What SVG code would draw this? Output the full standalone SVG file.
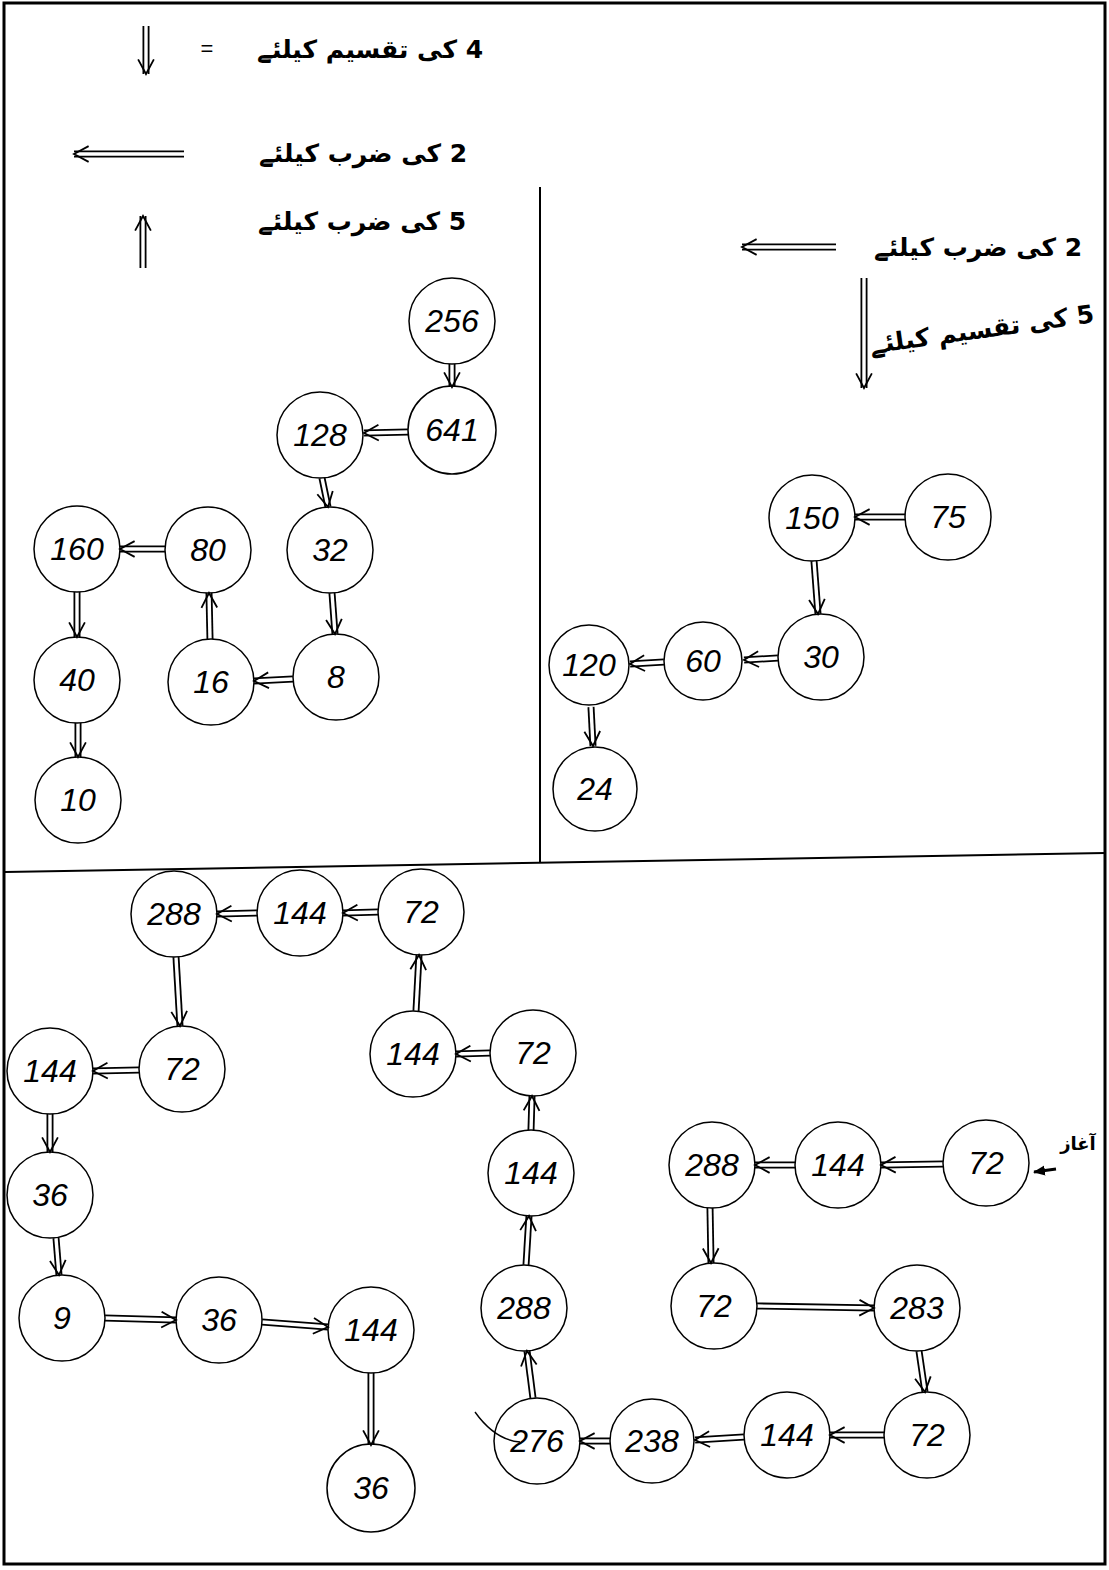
<svg xmlns="http://www.w3.org/2000/svg" width="1109" height="1570" viewBox="0 0 1109 1570">
<style>
.node circle{fill:none;stroke:#000;stroke-width:1.5}
.node text{font-family:"Liberation Sans","DejaVu Sans",sans-serif;font-style:italic;font-size:32px;text-anchor:middle;dominant-baseline:central;fill:#000}
.o{stroke:#000;stroke-width:7;fill:none}
.i{stroke:#fff;stroke-width:3.4;fill:none;marker-end:url(#ah)}
.ur{font-family:"DejaVu Sans","Noto Sans",sans-serif;font-weight:bold;font-size:25px;fill:#000;text-anchor:middle;direction:rtl}
.frame{fill:none;stroke:#000;stroke-width:3}
.div{stroke:#000;stroke-width:2;fill:none}
</style>
<defs>
<marker id="ah" markerUnits="userSpaceOnUse" markerWidth="18" markerHeight="18" viewBox="0 0 16 16" refX="14" refY="8" orient="auto">
<path d="M1 1 L14 8 L1 15" fill="none" stroke="#000" stroke-width="1.6"/>
</marker>
<marker id="sa" markerUnits="userSpaceOnUse" markerWidth="12" markerHeight="12" viewBox="0 0 12 12" refX="11" refY="6" orient="auto">
<path d="M0 1 L12 6 L0 11 Z" fill="#000"/>
</marker>
</defs>
<rect width="1109" height="1570" fill="#fff"/>
<rect class="frame" x="4" y="3" width="1101" height="1561"/>
<g id="dividers">
<line class="div" x1="540" y1="187" x2="540" y2="862"/>
<line class="div" x1="5" y1="872" x2="1105" y2="853"/>
</g>
<g id="legend">
<path class="o" d="M146 26 L146 74"/><path class="i" d="M146 26 L146 74"/>
<text x="207" y="56" style="font-family:'Liberation Sans',sans-serif;font-size:22px" text-anchor="middle">=</text>
<text class="ur" x="370" y="58">4 کی تقسیم کیلئے</text>
<path class="o" d="M184 154 L74 154"/><path class="i" d="M184 154 L74 154"/>
<text class="ur" x="363" y="162">2 کی ضرب کیلئے</text>
<path class="o" d="M143 268 L143 216"/><path class="i" d="M143 268 L143 216"/>
<text class="ur" x="362" y="230">5 کی ضرب کیلئے</text>
<path class="o" d="M836 247 L742 247"/><path class="i" d="M836 247 L742 247"/>
<text class="ur" x="978" y="256">2 کی ضرب کیلئے</text>
<path class="o" d="M864 278 L864 388"/><path class="i" d="M864 278 L864 388"/>
<text class="ur" x="982" y="338" transform="rotate(-8 982 330)">5 کی تقسیم کیلئے</text>
</g>
<g id="start">
<line x1="1056" y1="1169" x2="1034" y2="1172" stroke="#000" stroke-width="3" marker-end="url(#sa)"/>
<text x="1078" y="1150" style="font-family:'DejaVu Sans',sans-serif;font-size:18px;font-weight:bold" text-anchor="middle" direction="rtl">آغاز</text>
</g>
<g id="connectors">
<path class="o" d="M452 364 L452 387"/><path class="i" d="M452 364 L452 387"/>
<path class="o" d="M408 432 L364 433"/><path class="i" d="M408 432 L364 433"/>
<path class="o" d="M322 478 L328 507"/><path class="i" d="M322 478 L328 507"/>
<path class="o" d="M332 593 L335 634"/><path class="i" d="M332 593 L335 634"/>
<path class="o" d="M293 679 L254 681"/><path class="i" d="M293 679 L254 681"/>
<path class="o" d="M210 639 L209 593"/><path class="i" d="M210 639 L209 593"/>
<path class="o" d="M165 549 L120 549"/><path class="i" d="M165 549 L120 549"/>
<path class="o" d="M77 592 L77 637"/><path class="i" d="M77 592 L77 637"/>
<path class="o" d="M78 723 L78 757"/><path class="i" d="M78 723 L78 757"/>
<path class="o" d="M905 517 L855 517"/><path class="i" d="M905 517 L855 517"/>
<path class="o" d="M814 561 L818 614"/><path class="i" d="M814 561 L818 614"/>
<path class="o" d="M778 658 L744 660"/><path class="i" d="M778 658 L744 660"/>
<path class="o" d="M664 662 L630 664"/><path class="i" d="M664 662 L630 664"/>
<path class="o" d="M591 707 L593 746"/><path class="i" d="M591 707 L593 746"/>
<path class="o" d="M943 1164 L881 1165"/><path class="i" d="M943 1164 L881 1165"/>
<path class="o" d="M795 1165 L755 1165"/><path class="i" d="M795 1165 L755 1165"/>
<path class="o" d="M710 1208 L711 1263"/><path class="i" d="M710 1208 L711 1263"/>
<path class="o" d="M757 1306 L874 1308"/><path class="i" d="M757 1306 L874 1308"/>
<path class="o" d="M919 1351 L925 1392"/><path class="i" d="M919 1351 L925 1392"/>
<path class="o" d="M884 1435 L830 1435"/><path class="i" d="M884 1435 L830 1435"/>
<path class="o" d="M744 1437 L695 1440"/><path class="i" d="M744 1437 L695 1440"/>
<path class="o" d="M610 1441 L580 1441"/><path class="i" d="M610 1441 L580 1441"/>
<path class="o" d="M533 1398 L527 1351"/><path class="i" d="M533 1398 L527 1351"/>
<path class="o" d="M526 1265 L529 1216"/><path class="i" d="M526 1265 L529 1216"/>
<path class="o" d="M531 1130 L532 1096"/><path class="i" d="M531 1130 L532 1096"/>
<path class="o" d="M490 1053 L456 1054"/><path class="i" d="M490 1053 L456 1054"/>
<path class="o" d="M416 1011 L419 955"/><path class="i" d="M416 1011 L419 955"/>
<path class="o" d="M378 912 L343 913"/><path class="i" d="M378 912 L343 913"/>
<path class="o" d="M257 913 L217 914"/><path class="i" d="M257 913 L217 914"/>
<path class="o" d="M176 957 L180 1026"/><path class="i" d="M176 957 L180 1026"/>
<path class="o" d="M139 1070 L93 1071"/><path class="i" d="M139 1070 L93 1071"/>
<path class="o" d="M50 1114 L50 1152"/><path class="i" d="M50 1114 L50 1152"/>
<path class="o" d="M56 1238 L59 1275"/><path class="i" d="M56 1238 L59 1275"/>
<path class="o" d="M105 1318 L176 1320"/><path class="i" d="M105 1318 L176 1320"/>
<path class="o" d="M262 1322 L328 1327"/><path class="i" d="M262 1322 L328 1327"/>
<path class="o" d="M371 1373 L371 1445"/><path class="i" d="M371 1373 L371 1445"/>
</g>
<g id="n256" class="node"><circle cx="452" cy="321" r="43"/><text x="452" y="321">256</text></g>
<g id="n641" class="node"><circle cx="452" cy="430" r="44"/><text x="452" y="430">641</text></g>
<g id="n128" class="node"><circle cx="320" cy="435" r="43"/><text x="320" y="435">128</text></g>
<g id="n32" class="node"><circle cx="330" cy="550" r="43"/><text x="330" y="550">32</text></g>
<g id="n8" class="node"><circle cx="336" cy="677" r="43"/><text x="336" y="677">8</text></g>
<g id="n16" class="node"><circle cx="211" cy="682" r="43"/><text x="211" y="682">16</text></g>
<g id="n80" class="node"><circle cx="208" cy="550" r="43"/><text x="208" y="550">80</text></g>
<g id="n160" class="node"><circle cx="77" cy="549" r="43"/><text x="77" y="549">160</text></g>
<g id="n40" class="node"><circle cx="77" cy="680" r="43"/><text x="77" y="680">40</text></g>
<g id="n10" class="node"><circle cx="78" cy="800" r="43"/><text x="78" y="800">10</text></g>
<g id="n150" class="node"><circle cx="812" cy="518" r="43"/><text x="812" y="518">150</text></g>
<g id="n75" class="node"><circle cx="948" cy="517" r="43"/><text x="948" y="517">75</text></g>
<g id="n30" class="node"><circle cx="821" cy="657" r="43"/><text x="821" y="657">30</text></g>
<g id="n60" class="node"><circle cx="703" cy="661" r="39"/><text x="703" y="661">60</text></g>
<g id="n120" class="node"><circle cx="589" cy="665" r="40"/><text x="589" y="665">120</text></g>
<g id="n24" class="node"><circle cx="595" cy="789" r="42"/><text x="595" y="789">24</text></g>
<g id="a288" class="node"><circle cx="174" cy="914" r="43"/><text x="174" y="914">288</text></g>
<g id="a144" class="node"><circle cx="300" cy="913" r="43"/><text x="300" y="913">144</text></g>
<g id="a72" class="node"><circle cx="421" cy="912" r="43"/><text x="421" y="912">72</text></g>
<g id="b144" class="node"><circle cx="413" cy="1054" r="43"/><text x="413" y="1054">144</text></g>
<g id="b72" class="node"><circle cx="533" cy="1053" r="43"/><text x="533" y="1053">72</text></g>
<g id="c72" class="node"><circle cx="182" cy="1069" r="43"/><text x="182" y="1069">72</text></g>
<g id="c144" class="node"><circle cx="50" cy="1071" r="43"/><text x="50" y="1071">144</text></g>
<g id="d36" class="node"><circle cx="50" cy="1195" r="43"/><text x="50" y="1195">36</text></g>
<g id="d9" class="node"><circle cx="62" cy="1318" r="43"/><text x="62" y="1318">9</text></g>
<g id="d36b" class="node"><circle cx="219" cy="1320" r="43"/><text x="219" y="1320">36</text></g>
<g id="d144" class="node"><circle cx="371" cy="1330" r="43"/><text x="371" y="1330">144</text></g>
<g id="d36c" class="node"><circle cx="371" cy="1488" r="44"/><text x="371" y="1488">36</text></g>
<g id="e144" class="node"><circle cx="531" cy="1173" r="43"/><text x="531" y="1173">144</text></g>
<g id="e288" class="node"><circle cx="524" cy="1308" r="43"/><text x="524" y="1308">288</text></g>
<g id="e276" class="node"><circle cx="537" cy="1441" r="43"/><text x="537" y="1441">276</text><path d="M475 1412 Q495 1440 520 1442" fill="none" stroke="#000" stroke-width="1.4"/></g>
<g id="f238" class="node"><circle cx="652" cy="1441" r="42"/><text x="652" y="1441">238</text></g>
<g id="f144" class="node"><circle cx="787" cy="1435" r="43"/><text x="787" y="1435">144</text></g>
<g id="f72" class="node"><circle cx="927" cy="1435" r="43"/><text x="927" y="1435">72</text></g>
<g id="g283" class="node"><circle cx="917" cy="1308" r="43"/><text x="917" y="1308">283</text></g>
<g id="g72" class="node"><circle cx="714" cy="1306" r="43"/><text x="714" y="1306">72</text></g>
<g id="h288" class="node"><circle cx="712" cy="1165" r="43"/><text x="712" y="1165">288</text></g>
<g id="h144" class="node"><circle cx="838" cy="1165" r="43"/><text x="838" y="1165">144</text></g>
<g id="h72" class="node"><circle cx="986" cy="1163" r="43"/><text x="986" y="1163">72</text></g>
</svg>
